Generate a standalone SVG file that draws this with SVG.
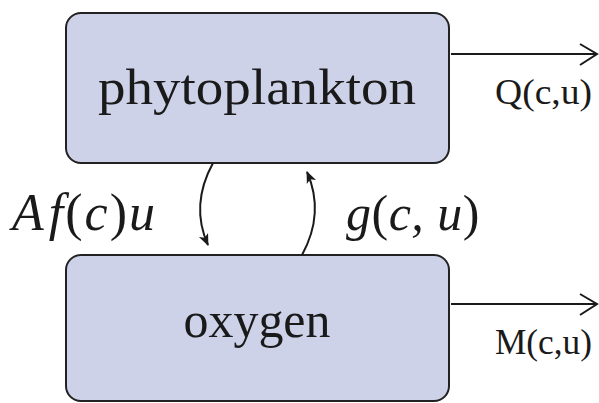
<svg xmlns="http://www.w3.org/2000/svg" width="599" height="403" viewBox="0 0 599 403">
<style>
.box{fill:#cdd2e8;stroke:#222;stroke-width:2}
.lbl{font-family:"Liberation Serif",serif;fill:#1a1a1a}
.math{font-family:"Liberation Serif",serif;font-style:italic;fill:#1a1a1a}
.up{font-style:normal}
.con{fill:none;stroke:#1a1a1a;stroke-width:2}
</style>
<defs>
<marker id="stealth" viewBox="-12 -6 14 12" markerWidth="14" markerHeight="12" refX="0" refY="0" orient="auto" markerUnits="userSpaceOnUse">
<path d="M1,0 L-11,-5 L-8,0 L-11,5 z" fill="#1a1a1a"/>
</marker>
</defs>
<rect width="599" height="403" fill="#fff"/>
<g id="phytoplankton">
<rect class="box" x="66" y="13" width="383" height="150" rx="15"/>
<text class="lbl" x="257" y="104" font-size="50" text-anchor="middle" textLength="318" lengthAdjust="spacingAndGlyphs">phytoplankton</text>
</g>
<g id="oxygen">
<rect class="box" x="66" y="255" width="383" height="146" rx="15"/>
<text class="lbl" x="257" y="337" font-size="50" text-anchor="middle" textLength="147" lengthAdjust="spacingAndGlyphs">oxygen</text>
</g>
<g id="connectors">
<path class="con" d="M213,163 Q190,205 208,245" marker-end="url(#stealth)"/>
<path class="con" d="M302,255 Q325,213 307,172" marker-end="url(#stealth)"/>
<line class="con" x1="451" y1="54" x2="597" y2="54"/>
<polyline class="con" points="580,44 597,54 580,65"/>
<line class="con" x1="451" y1="304" x2="597" y2="304"/>
<polyline class="con" points="580,294 597,304 580,315"/>
</g>
<g id="labels">
<text class="lbl" x="495" y="104" font-size="36" textLength="97" lengthAdjust="spacingAndGlyphs">Q(c,u)</text>
<text class="lbl" x="495" y="354" font-size="36" textLength="97" lengthAdjust="spacingAndGlyphs">M(c,u)</text>
<text class="math" x="12" y="230" font-size="52" letter-spacing="2">A<tspan dx="3">f</tspan><tspan class="up">(</tspan>c<tspan class="up">)</tspan>u</text>
<text class="math" x="346" y="230" font-size="50" letter-spacing="0.5">g<tspan class="up">(</tspan>c, u<tspan class="up">)</tspan></text>
</g>
</svg>
